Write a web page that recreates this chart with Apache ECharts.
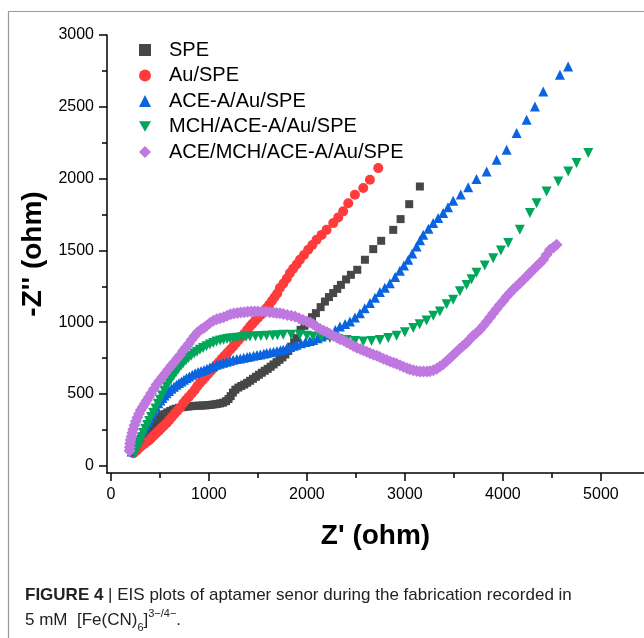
<!DOCTYPE html>
<html><head><meta charset="utf-8">
<script src="https://cdn.jsdelivr.net/npm/echarts@6/dist/echarts.min.js"></script>
<style>html,body{margin:0;padding:0;background:#fff}#c{width:644px;height:638px}</style>
</head><body><div id="c"></div>
<script>
const seriesNames = ['SPE', 'Au/SPE', 'ACE-A/Au/SPE', 'MCH/ACE-A/Au/SPE', 'ACE/MCH/ACE-A/Au/SPE'];
const xTickValues = [0, 1000, 2000, 3000, 4000, 5000];
const xMinorValues = [500, 1500, 2500, 3500, 4500];
const yTickValues = [0, 500, 1000, 1500, 2000, 2500, 3000];
const yMinorValues = [250, 750, 1250, 1750, 2250, 2750];

const speData = [
[228,92],[238,105],[250,120],[262,138],[275,155],[290,172],[305,188],[322,205],[340,222],[358,238],
[378,252],[398,265],[420,280],[445,297],[470,315],[495,332],[520,347],[548,360],[575,372],[605,382],
[635,392],[665,398],[695,404],[725,408],[755,411],[785,413],[815,415],[845,417],[875,418],[905,419],
[935,420],[965,421],[995,423],[1025,425],[1055,428],[1085,431],[1115,435],[1145,440],[1175,450],[1200,465],
[1222,485],[1245,510],[1270,530],[1300,545],[1330,556],[1360,566],[1390,578],[1420,592],[1450,606],[1480,620],
[1510,634],[1540,648],[1570,662],[1600,675],[1630,690],[1660,706],[1690,722],[1720,738],[1750,755],[1780,775],
[1810,800],[1840,830],[1870,860],[1895,889],[1935,947],[1975,975],[2013,1005],[2052,1035],[2092,1063],[2140,1105],
[2184,1144],[2225,1175],[2268,1203],[2310,1232],[2347,1260],[2400,1298],[2449,1330],[2514,1365],[2592,1435],[2677,1509],
[2758,1567],[2881,1643],[2956,1718],[3044,1822],[3153,1945]
];
const auData = [
[228,88],[250,100],[272,113],[295,127],[318,141],[342,154],[366,167],[390,178],[415,195],[440,212],
[465,229],[490,245],[515,262],[540,279],[568,297],[595,318],[622,340],[650,362],[678,384],[706,405],
[738,436],[765,458],[795,480],[825,503],[855,528],[880,553],[908,576],[935,596],[962,617],[990,638],
[1020,660],[1050,682],[1078,703],[1105,724],[1132,745],[1160,766],[1190,788],[1220,810],[1248,831],[1275,853],
[1302,875],[1330,897],[1360,920],[1390,946],[1418,970],[1445,990],[1472,1010],[1500,1030],[1530,1052],[1560,1075],
[1589,1098],[1615,1122],[1642,1148],[1670,1174],[1697,1200],[1724,1238],[1760,1270],[1795,1305],[1827,1342],[1860,1372],
[1895,1402],[1929,1435],[1970,1468],[2013,1504],[2055,1538],[2099,1574],[2150,1608],[2201,1643],[2269,1690],[2320,1730],
[2370,1772],[2422,1829],[2490,1887],[2575,1934],[2643,1992],[2728,2073]
];
const aceAData = [
[211,100],[228,122],[245,143],[262,164],[279,186],[296,204],[316,230],[336,255],[356,280],[377,306],
[398,332],[420,358],[441,384],[462,410],[483,436],[505,455],[526,472],[547,489],[568,506],[593,521],
[618,536],[644,550],[670,564],[695,576],[720,588],[746,600],[772,611],[800,622],[830,634],[860,645],
[890,654],[920,660],[950,668],[980,676],[1010,684],[1040,693],[1078,703],[1110,710],[1145,717],[1180,724],
[1215,731],[1248,738],[1285,743],[1320,748],[1355,752],[1390,757],[1418,761],[1455,766],[1490,771],[1525,776],
[1560,781],[1589,785],[1625,790],[1660,795],[1695,800],[1730,804],[1758,808],[1795,818],[1830,828],[1865,836],
[1895,843],[1940,853],[1985,862],[2030,870],[2064,877],[2110,888],[2150,900],[2195,912],[2235,924],[2290,945],
[2337,970],[2390,987],[2439,1005],[2490,1032],[2541,1063],[2590,1098],[2643,1133],[2695,1170],[2745,1210],[2795,1240],
[2847,1272],[2900,1315],[2949,1358],[2990,1395],[3034,1435],[3075,1478],[3119,1527],[3155,1570],[3187,1609],[3240,1650],
[3289,1690],[3340,1725],[3391,1760],[3440,1800],[3493,1846],[3570,1890],[3646,1940],[3731,1998],[3834,2050],[3936,2131],
[4038,2201],[4140,2317],[4242,2409],[4327,2502],[4412,2607],[4582,2723],[4666,2781]
];
const mchData = [
[245,88],[262,115],[280,143],[298,170],[315,198],[330,228],[350,258],[370,285],[390,312],[410,340],
[432,367],[455,400],[478,432],[500,460],[522,490],[545,522],[568,552],[592,578],[616,604],[640,628],
[665,652],[690,675],[715,696],[738,715],[765,733],[792,750],[820,766],[850,782],[878,795],[908,808],
[940,820],[975,832],[1010,845],[1045,856],[1078,866],[1115,872],[1150,878],[1185,883],[1215,886],[1248,889],
[1290,892],[1335,895],[1380,898],[1418,900],[1475,902],[1530,904],[1589,905],[1650,908],[1700,910],[1758,912],
[1840,912],[1929,912],[2000,905],[2064,900],[2150,895],[2235,890],[2320,883],[2405,877],[2490,870],[2575,866],
[2660,870],[2745,877],[2830,890],[2915,906],[3000,930],[3085,959],[3150,985],[3221,1012],[3290,1045],[3357,1074],
[3425,1125],[3493,1156],[3561,1215],[3629,1260],[3680,1300],[3731,1345],[3815,1395],[3901,1446],[3980,1500],[4054,1551],
[4173,1643],[4276,1760],[4344,1829],[4446,1911],[4565,1980],[4667,2050],[4752,2108],[4871,2178]
];
const aceData = [
[190,105],[192,130],[196,155],[202,180],[210,205],[218,230],[228,255],[240,282],[255,310],[270,336],
[287,362],[305,388],[325,410],[345,432],[365,455],[388,480],[410,505],[438,535],[466,566],[495,592],
[525,618],[555,645],[585,670],[615,697],[645,720],[675,745],[705,770],[735,800],[765,826],[795,850],
[825,880],[855,905],[885,930],[920,950],[950,962],[976,975],[1010,995],[1045,1010],[1080,1020],[1115,1028],
[1150,1035],[1185,1045],[1220,1055],[1255,1060],[1290,1065],[1325,1068],[1360,1070],[1395,1072],[1430,1074],[1465,1074],
[1500,1075],[1540,1075],[1580,1072],[1620,1070],[1656,1068],[1690,1065],[1724,1062],[1760,1057],[1800,1050],[1840,1045],
[1880,1040],[1920,1028],[1960,1015],[2000,1005],[2035,998],[2064,985],[2100,968],[2135,952],[2170,940],[2205,930],
[2235,918],[2270,905],[2305,893],[2340,882],[2375,872],[2405,860],[2440,848],[2475,835],[2510,823],[2545,813],
[2575,805],[2610,795],[2645,784],[2680,773],[2715,766],[2745,757],[2780,746],[2815,737],[2850,727],[2885,718],
[2915,710],[2950,700],[2985,690],[3020,680],[3050,672],[3085,665],[3120,660],[3155,657],[3190,656],[3225,656],
[3255,658],[3290,665],[3325,676],[3357,691],[3390,708],[3425,728],[3460,750],[3493,772],[3525,793],[3560,815],
[3595,836],[3629,856],[3660,880],[3695,905],[3730,925],[3765,947],[3800,975],[3835,1005],[3870,1035],[3901,1063],
[3935,1092],[3970,1122],[4005,1150],[4038,1179],[4072,1203],[4105,1228],[4140,1250],[4173,1272],[4210,1297],[4245,1320],
[4275,1342],[4310,1365],[4345,1390],[4380,1412],[4412,1435],[4445,1470],[4480,1504],[4515,1520],[4548,1539]
];

const colors = ['#474747', '#ff3b3b', '#0a64e0', '#00a65a', '#bf78df'];
const invTri = 'path://M0,0L20,0L10,17.3Z';

const chart = echarts.init(document.getElementById('c'), null, {renderer: 'canvas'});
const FONT = 'Liberation Sans, Arial, sans-serif';
const plain = function (v) { return String(v); };

function sc(name, data, symbol, size, color, rot) {
  return {
    name: name, type: 'scatter', data: data, symbol: symbol, symbolSize: size,
    symbolRotate: rot || 0, itemStyle: {color: color, opacity: 1}, xAxisIndex: 0, yAxisIndex: 0,
    emphasis: {disabled: true}
  };
}

chart.setOption({
  animation: false,
  backgroundColor: '#fff',
  grid: {left: 107, top: 35, right: 0, bottom: 165, containLabel: false},
  legend: {
    orient: 'vertical', left: 134, top: 35, itemWidth: 12, itemHeight: 12, itemGap: 5.5,
    textStyle: {fontSize: 20, fontFamily: FONT, color: '#000', padding: [0, 0, 0, 13], lineHeight: 20},
    selectedMode: false,
    data: [
      {name: seriesNames[0], icon: 'rect', itemStyle: {color: colors[0]}},
      {name: seriesNames[1], icon: 'circle'},
      {name: seriesNames[2], icon: 'triangle'},
      {name: seriesNames[3], icon: invTri},
      {name: seriesNames[4], icon: 'diamond'}
    ]
  },
  xAxis: [{
    type: 'value', min: -40, max: 5440, position: 'bottom',
    name: "Z' (ohm)", nameLocation: 'middle', nameGap: 49,
    nameTextStyle: {fontSize: 28, fontWeight: 'bold', fontFamily: FONT, color: '#000'},
    axisLine: {onZero: false, lineStyle: {color: '#000', width: 1.5}},
    axisTick: {show: true, inside: false, length: 8, lineStyle: {color: '#000', width: 1.5}, customValues: xTickValues},
    axisLabel: {fontSize: 16, fontFamily: FONT, color: '#000', margin: 14, customValues: xTickValues, formatter: plain},
    splitLine: {show: false}
  }, {
    type: 'value', min: -40, max: 5440, position: 'bottom',
    axisLine: {show: false, onZero: false},
    axisTick: {show: true, length: 5, lineStyle: {color: '#000', width: 1.5}, customValues: xMinorValues},
    axisLabel: {show: false, customValues: xMinorValues},
    splitLine: {show: false}
  }],
  yAxis: [{
    type: 'value', min: -50, max: 3000, position: 'left',
    name: "-Z'' (ohm)", nameLocation: 'middle', nameGap: 59,
    nameTextStyle: {fontSize: 28, fontWeight: 'bold', fontFamily: FONT, color: '#000'},
    axisLine: {show: true, onZero: false, lineStyle: {color: '#000', width: 1.5}},
    axisTick: {show: true, length: 8, lineStyle: {color: '#000', width: 1.5}, customValues: yTickValues},
    axisLabel: {fontSize: 16, fontFamily: FONT, color: '#000', margin: 13, customValues: yTickValues, formatter: plain},
    splitLine: {show: false}
  }, {
    type: 'value', min: -50, max: 3000, position: 'left',
    axisLine: {show: false, onZero: false},
    axisTick: {show: true, length: 5, lineStyle: {color: '#000', width: 1.5}, customValues: yMinorValues},
    axisLabel: {show: false, customValues: yMinorValues},
    splitLine: {show: false}
  }],
  series: [
    sc(seriesNames[0], speData, 'rect', 8, colors[0]),
    sc(seriesNames[1], auData, 'circle', 10, colors[1]),
    sc(seriesNames[2], aceAData, 'triangle', 10, colors[2]),
    sc(seriesNames[3], mchData, 'triangle', 10, colors[3], 180),
    sc(seriesNames[4], aceData, 'diamond', 12, colors[4])
  ],
  graphic: [
    {type: 'polyline', silent: true, shape: {points: [[8.5, 638], [8.5, 11.5], [644, 11.5]]},
     style: {stroke: '#9a9a9a', lineWidth: 1.2, fill: null}},
    {type: 'text', left: 25, top: 587, silent: true,
     style: {
       text: '{b|FIGURE 4} | EIS plots of aptamer senor during the fabrication recorded in',
       fontSize: 17, fontFamily: FONT, fill: '#222',
       rich: {b: {fontSize: 17, fontWeight: 'bold', fontFamily: FONT, fill: '#222'}}
     }},
    {type: 'text', left: 25, top: 608, silent: true,
     style: {
       text: '5 mM  [Fe(CN){sub|6}]{sup|3\u2212/4\u2212}.',
       fontSize: 17, lineHeight: 25, fontFamily: FONT, fill: '#222',
       rich: {
         sub: {fontSize: 11, lineHeight: 11, verticalAlign: 'bottom', fontFamily: FONT, fill: '#222'},
         sup: {fontSize: 11, lineHeight: 11, verticalAlign: 'top', fontFamily: FONT, fill: '#222'}
       }
     }}
  ]
});
</script>
</body></html>
